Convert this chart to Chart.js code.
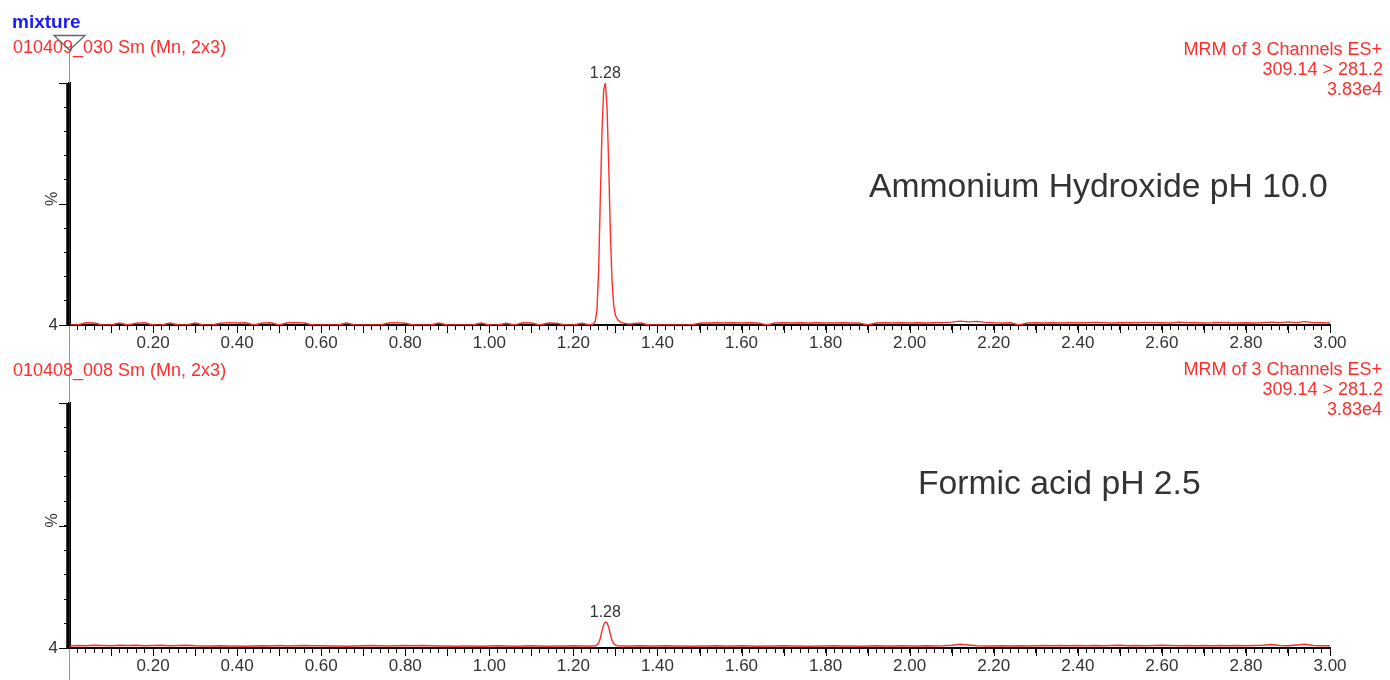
<!DOCTYPE html>
<html>
<head>
<meta charset="utf-8">
<script src="https://cdn.jsdelivr.net/npm/chart.js@4.4.1/dist/chart.umd.min.js"></script>
<style>
  html, body { margin: 0; padding: 0; background: #fff; }
  #wrap { position: relative; width: 1390px; height: 680px; }
  #top { position: absolute; left: 0; top: 0; }
  #bot { position: absolute; left: 0; top: 352px; }
</style>
</head>
<body>
<div id="wrap">
  <canvas id="top" width="1390" height="352"></canvas>
  <canvas id="bot" width="1390" height="328"></canvas>
</div>
<script>
// retention time (min)
const times = [
  0.00,0.02,0.04,0.06,0.08,0.10,0.12,0.14,0.16,0.18,
  0.20,0.22,0.24,0.26,0.28,0.30,0.32,0.34,0.36,0.38,
  0.40,0.42,0.44,0.46,0.48,0.50,0.52,0.54,0.56,0.58,
  0.60,0.62,0.64,0.66,0.68,0.70,0.72,0.74,0.76,0.78,
  0.80,0.82,0.84,0.86,0.88,0.90,0.92,0.94,0.96,0.98,
  1.00,1.02,1.04,1.06,1.08,1.10,1.12,1.14,1.16,1.18,
  1.20,1.22,1.24,
  1.246,1.252,1.256,1.260,1.264,1.268,1.272,1.276,1.280,1.284,
  1.288,1.292,1.296,1.300,1.306,1.312,1.320,1.330,
  1.34,1.36,1.38,1.40,1.42,1.44,1.46,1.48,1.50,1.52,
  1.54,1.56,1.58,1.60,1.62,1.64,1.66,1.68,1.70,1.72,
  1.74,1.76,1.78,1.80,1.82,1.84,1.86,1.88,1.90,1.92,
  1.94,1.96,1.98,2.00,2.02,2.04,2.06,2.08,2.10,2.12,
  2.14,2.16,2.18,2.20,2.22,2.24,2.26,2.28,2.30,2.32,
  2.34,2.36,2.38,2.40,2.42,2.44,2.46,2.48,2.50,2.52,
  2.54,2.56,2.58,2.60,2.62,2.64,2.66,2.68,2.70,2.72,
  2.74,2.76,2.78,2.80,2.82,2.84,2.86,2.88,2.90,2.92,
  2.94,2.96,2.98,3.00
];

// Ammonium Hydroxide pH 10.0 (%)
const ammoniumPct = [
  0,0,0.9,0.8,0,0,0.8,0,0.7,0.9,
  0,0,0.8,0,0,0.8,0,0,0.7,1.0,
  0.8,0.9,0,0.8,0.9,0,0.9,1.0,0.8,0,
  0,0,0,0.8,0,0,0,0,0.8,1.0,
  0.7,0,0,0,0.8,0,0,0,0,0.8,
  0,0,0.7,0,0.9,0.8,0,0.8,0.7,0,
  0,0.7,0,
  0.3,1.5,6,22,52,80,97,100,90,66,
  38,18,8,4,2,1.2,0.8,0.4,
  0.5,0.8,0,0,0,0,0,0,0.7,0.8,
  0.9,0.8,0.9,0.8,0.9,0.8,0,0.8,0.9,0.8,
  0.9,0.8,0.9,0.8,0.8,0.9,0.8,0.8,0,0.8,
  0.9,0.8,0.9,0.8,0.9,0.8,0.9,1.0,1.2,1.6,
  1.3,1.5,1.1,0.9,0.8,0.9,0,0.8,0.9,0.8,
  0.9,0.8,0.9,1.0,0.9,1.1,1.0,0.8,0.9,1.0,
  0.9,1.1,1.0,0.9,0.8,1.2,1.0,0.9,0.8,0.9,
  1.1,0.9,0.8,0.9,0.8,1.0,1.2,1.0,1.3,1.0,
  1.4,1.0,0.9,0.8
];

// Formic acid pH 2.5 (%)
const formicPct = [
  0.8,1.0,0.9,1.1,1.0,0.9,1.1,1.0,1.1,0.9,
  1.0,1.1,0.9,1.0,1.1,0.9,0.8,0.8,0.9,0.8,
  0.8,0.7,0.8,0.9,0.8,1.0,0.8,0.9,1.0,0.9,
  0.9,0.8,0.8,0.7,0.8,0.9,1.0,0.9,0.8,0.9,
  1.0,0.9,1.0,0.9,0.8,0.8,0.7,0.8,0.8,0.7,
  0.8,0.9,0.8,0.7,0.8,0.9,0.8,0.7,0.8,0.8,
  0.9,0.8,0.8,
  0.8,0.9,1.2,2,4,7,9.5,10.6,10.3,8.5,
  5.5,3,1.8,1.2,0.9,0.8,0.8,0.8,
  0.8,0.9,0.8,0.8,0.9,0.8,0.8,0.7,0.8,0.8,
  0.9,0.8,0.8,0.9,0.8,0.7,0.8,0.8,0.9,0.8,
  0.8,0.7,0.8,0.8,0.9,0.8,0.8,0.7,0.8,0.9,
  0.8,0.8,0.9,0.8,0.8,0.9,0.8,0.9,1.1,1.5,
  1.2,0.9,0.8,0.8,0.9,0.8,0.9,0.8,0.9,1.0,
  0.9,1.0,0.9,1.0,0.9,1.0,0.9,1.0,1.1,0.9,
  1.0,0.9,1.0,1.1,1.0,0.9,1.0,0.9,1.0,0.9,
  1.0,0.9,1.0,0.9,1.0,1.1,1.4,1.0,0.9,1.2,
  1.5,1.0,0.9,0.9
];

const xTickLabels = ['0.20','0.40','0.60','0.80','1.00','1.20','1.40','1.60','1.80','2.00',
                     '2.20','2.40','2.60','2.80','3.00'];
const yZeroLabel = '4';
const yAxisTitle = '%';

const FONT = "'Liberation Sans', Arial, sans-serif";
const RED = 'rgb(255,45,45)';
Chart.defaults.font.family = FONT;

function labelFor(v) {
  const s = v.toFixed(2);
  return xTickLabels.includes(s) ? s : '';
}

// header texts, cursor line, longer ticks, peak label
function decor(cfg) {
  return {
    id: 'decor',
    beforeDatasetsDraw(chart) {
      const ctx = chart.ctx;
      const x0 = Math.round(chart.chartArea.left) + 0.5;
      ctx.save();
      ctx.strokeStyle = '#999';
      ctx.lineWidth = 1;
      ctx.beginPath();
      ctx.moveTo(x0, cfg.cursorTop);
      ctx.lineTo(x0, chart.height);
      ctx.stroke();
      ctx.restore();
    },
    afterDraw(chart) {
      const ctx = chart.ctx, ca = chart.chartArea;
      const xs = chart.scales.x, ys = chart.scales.y;
      ctx.save();

      // heavy y axis line
      ctx.strokeStyle = '#000';
      ctx.lineWidth = 3.5;
      ctx.beginPath();
      ctx.moveTo(ca.left - 1, ys.getPixelForValue(100));
      ctx.lineTo(ca.left - 1, ys.getPixelForValue(0) + 1);
      ctx.stroke();

      ctx.lineWidth = 1;
      ctx.beginPath();
      for (let k = 1; k <= 30; k++) {
        const px = Math.round(xs.getPixelForValue(k / 10)) + 0.5;
        ctx.moveTo(px, ca.bottom);
        ctx.lineTo(px, ca.bottom + 8);
      }
      [0, 50, 100].forEach(v => {
        const py = Math.round(ys.getPixelForValue(v)) + 0.5;
        ctx.moveTo(ca.left, py);
        ctx.lineTo(ca.left - 10, py);
      });
      ctx.stroke();

      // % title
      ctx.save();
      ctx.fillStyle = '#333';
      ctx.font = '16px ' + FONT;
      ctx.translate(53, ys.getPixelForValue(50) - 5);
      ctx.rotate(-Math.PI / 2);
      ctx.textAlign = 'center';
      ctx.textBaseline = 'middle';
      ctx.fillText(yAxisTitle, 0, 0);
      ctx.restore();

      // peak label
      const vals = cfg.values;
      let im = 0;
      vals.forEach((v, i) => { if (v > vals[im]) im = i; });
      ctx.fillStyle = '#333';
      ctx.font = '16px ' + FONT;
      ctx.textAlign = 'center';
      ctx.textBaseline = 'alphabetic';
      ctx.fillText(times[im].toFixed(2), xs.getPixelForValue(times[im]), ys.getPixelForValue(vals[im]) - 5);

      cfg.texts.forEach(t => {
        ctx.fillStyle = t.color || RED;
        ctx.font = (t.font || '18px') + ' ' + FONT;
        ctx.textAlign = t.align || 'left';
        ctx.fillText(t.t, t.x, t.y);
      });

      if (cfg.marker) {
        ctx.strokeStyle = '#666';
        ctx.lineWidth = 1.3;
        ctx.beginPath();
        ctx.moveTo(54, 35.5);
        ctx.lineTo(85, 35.5);
        ctx.lineTo(69.5, 50);
        ctx.closePath();
        ctx.stroke();
      }
      ctx.restore();
    }
  };
}

function makePanel(id, values, padTop, padBottom, cfg) {
  cfg.values = values;
  return new Chart(document.getElementById(id), {
    type: 'line',
    data: {
      datasets: [{
        data: times.map((t, i) => ({ x: t, y: values[i] })),
        borderColor: RED,
        borderWidth: 1.4,
        pointRadius: 0,
        tension: 0,
        fill: false
      }]
    },
    options: {
      responsive: false,
      animation: false,
      layout: { padding: { top: padTop, bottom: padBottom, left: 0, right: 60 } },
      plugins: { legend: { display: false }, tooltip: { enabled: false } },
      scales: {
        x: {
          type: 'linear', min: 0, max: 3, z: 1,
          afterFit: s => { s.height = 27; },
          border: { display: true, color: '#000', width: 2 },
          grid: { drawOnChartArea: false, drawTicks: true, tickLength: 5, tickColor: '#000', tickWidth: 1 },
          ticks: {
            stepSize: 0.02, autoSkip: false, maxRotation: 0, minRotation: 0,
            padding: 3, color: '#333', font: { size: 17 },
            callback: v => labelFor(v)
          }
        },
        y: {
          min: 0, max: 100, z: 1,
          afterFit: s => { s.width = 69; },
          border: { display: true, color: '#000', width: 3 },
          grid: { drawOnChartArea: false, tickLength: 5, tickColor: '#000', tickWidth: 1 },
          ticks: {
            stepSize: 10, padding: 6, color: '#333', font: { size: 17 },
            callback: v => (v === 0 ? yZeroLabel : '')
          }
        }
      }
    },
    plugins: [decor(cfg)]
  });
}

makePanel('top', ammoniumPct, 83, 0, {
  cursorTop: 50,
  marker: true,
  texts: [
    { t: 'mixture', x: 12, y: 28, color: '#1a1aff', font: 'bold 19px' },
    { t: '010409_030 Sm (Mn, 2x3)', x: 13, y: 53 },
    { t: 'MRM of 3 Channels ES+', x: 1382, y: 55, align: 'right' },
    { t: '309.14 > 281.2', x: 1383, y: 75, align: 'right' },
    { t: '3.83e4', x: 1382, y: 95, align: 'right' },
    { t: 'Ammonium Hydroxide pH 10.0', x: 869, y: 197, color: '#333', font: '33.7px' }
  ]
});

makePanel('bot', formicPct, 51, 5, {
  cursorTop: 0,
  marker: false,
  texts: [
    { t: '010408_008 Sm (Mn, 2x3)', x: 13, y: 24 },
    { t: 'MRM of 3 Channels ES+', x: 1382, y: 23, align: 'right' },
    { t: '309.14 > 281.2', x: 1383, y: 43, align: 'right' },
    { t: '3.83e4', x: 1382, y: 63, align: 'right' },
    { t: 'Formic acid pH 2.5', x: 918, y: 142, color: '#333', font: '33.7px' }
  ]
});
</script>
</body>
</html>
